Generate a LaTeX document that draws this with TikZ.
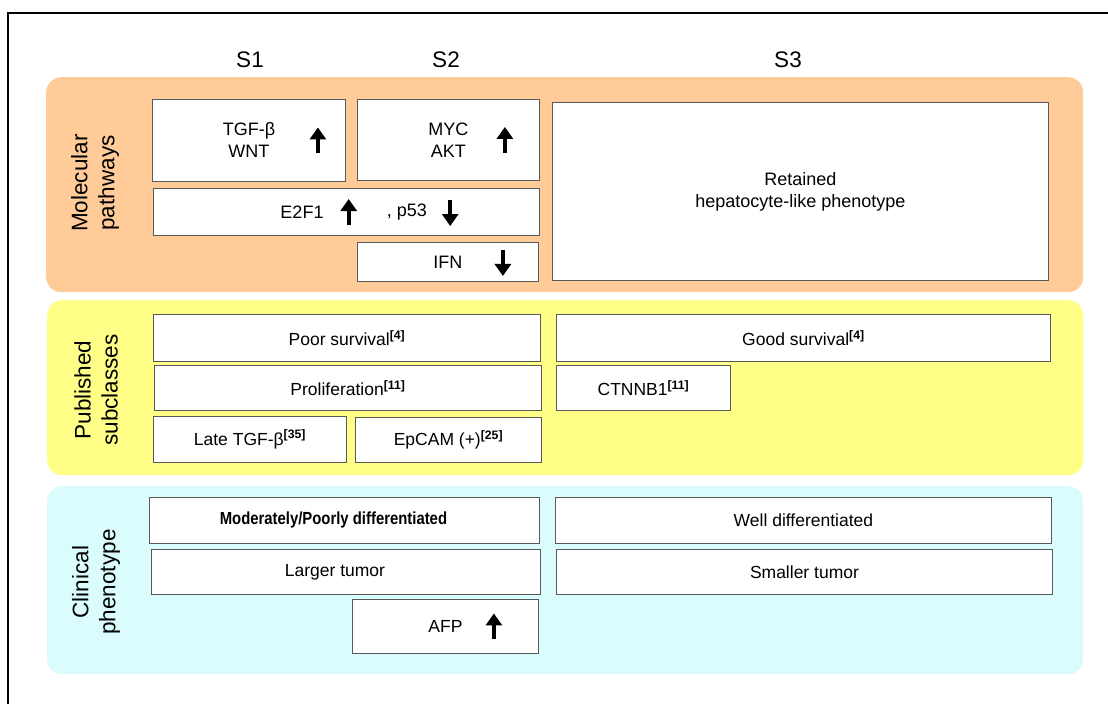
\documentclass[tikz,border=0pt]{standalone}
\usepackage{fontspec}
\setmainfont{Liberation Sans}
\usetikzlibrary{arrows.meta}
\definecolor{molfill}{RGB}{255,204,153}
\definecolor{pubfill}{RGB}{255,255,136}
\definecolor{clinfill}{RGB}{218,252,252}

\begin{document}
\begin{tikzpicture}[x=1pt,y=-1pt,
    panel/.style={rounded corners=15pt,fill=#1,anchor=north west,inner sep=0pt},
    box/.style={draw=black!65,line width=0.9pt,fill=white,anchor=north west,inner sep=0pt,align=center,font=\fontsize{17.5}{21}\selectfont},
    mbox/.style={box,font=\fontsize{18}{22}\selectfont},
    mtxt/.style={inner sep=0pt,font=\fontsize{18}{22}\selectfont},
    head/.style={font=\fontsize{22.5}{26}\selectfont},
    side/.style={rotate=90,align=center,font=\fontsize{22.5}{27}\selectfont},
    arr/.style={line width=4pt,-{Triangle[length=12pt,width=16pt]}}]
                \useasboundingbox (0,0) rectangle (1108,704);
                \draw[line width=1.8pt] (8,704) -- (8,13) -- (1108,13);

                % column heads
                \node[head] (s1) at (250,60) {S1};
                \node[head] (s2) at (446,60) {S2};
                \node[head] (s3) at (788,60) {S3};

                % panels
                \node[panel=molfill,minimum width=1037,minimum height=215] (mol) at (46,77) {};
                \node[panel=pubfill,minimum width=1036,minimum height=175] (pub) at (47,300) {};
                \node[panel=clinfill,minimum width=1036,minimum height=188] (clin) at (47,486) {};
                \node[side] (mollab) at (95,183) {Molecular\\pathways};
                \node[side] (publab) at (96,390) {Published\\subclasses};
                \node[side] (clinlab) at (96,582) {Clinical\\phenotype};

                % molecular pathways
                \node[mbox,minimum width=193,minimum height=82] (tgf) at (152,99) {TGF-β\\WNT};
                \node[mbox,minimum width=182,minimum height=81] (myc) at (357,99) {MYC\\AKT};
                \node[mbox,minimum width=386,minimum height=47] (e2f) at (153,188) {};
                \node[mtxt] (e2ftxt) at (302,212) {E2F1};
                \node[mtxt] (p53txt) at (407,212) {, p53};
                \node[mbox,minimum width=181,minimum height=39] (ifn) at (357,242) {IFN};
                \node[mbox,minimum width=496,minimum height=178] (hep) at (552,102) {Retained\\hepatocyte-like phenotype};
                \draw[arr] ([xshift=-28pt]tgf.east) ++(0,13) -- ++(0,-26);
                \draw[arr] ([xshift=-35pt]myc.east) ++(0,13) -- ++(0,-26);
                \draw[arr] ([xshift=25pt]e2ftxt.east) ++(0,13) -- ++(0,-26);
                \draw[arr] ([xshift=23pt]p53txt.east) ++(0,-12) -- ++(0,26);
                \draw[arr] ([xshift=-36pt]ifn.east) ++(0,-12) -- ++(0,26);

                % published subclasses
                \node[box,minimum width=387,minimum height=47] (poor) at (153,314) {Poor survival\textsuperscript{\bfseries[4]}};
                \node[box,minimum width=387,minimum height=45] (prolif) at (154,365) {Proliferation\textsuperscript{\bfseries[11]}};
                \node[box,minimum width=193,minimum height=46] (late) at (153,416) {Late TGF-β\textsuperscript{\bfseries[35]}};
                \node[box,minimum width=186,minimum height=45] (epcam) at (355,417) {EpCAM (+)\textsuperscript{\bfseries[25]}};
                \node[box,minimum width=494,minimum height=47] (good) at (556,314) {Good survival\textsuperscript{\bfseries[4]}};
                \node[box,minimum width=174,minimum height=45] (ctnnb) at (556,365) {CTNNB1\textsuperscript{\bfseries[11]}};

                % clinical phenotype
                \node[box,minimum width=390,minimum height=46] (mod) at (149,497) {\scalebox{0.85}[1]{\bfseries Moderately/Poorly differentiated}\hspace*{22pt}};
                \node[box,minimum width=389,minimum height=45] (larger) at (151,549) {Larger tumor\hspace*{22pt}};
                \node[box,minimum width=186,minimum height=54] (afp) at (352,599) {AFP};
                \node[box,minimum width=496,minimum height=46] (well) at (555,497) {Well differentiated};
                \node[box,minimum width=496,minimum height=45] (smaller) at (556,549) {Smaller tumor};
                \draw[arr] ([xshift=-45pt]afp.east) ++(0,13) -- ++(0,-26);
            \end{tikzpicture}
\end{document}
